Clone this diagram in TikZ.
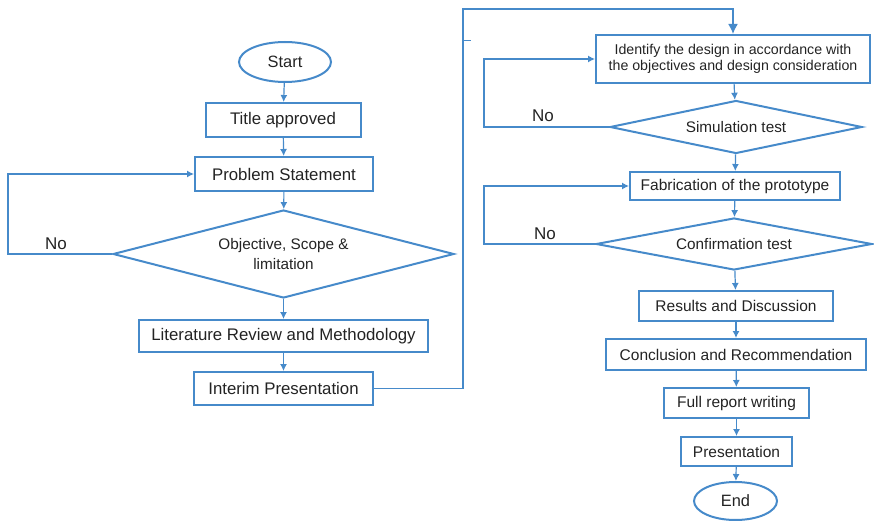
\documentclass[tikz,border=0pt]{standalone}
\usepackage{fontspec}
\setmainfont{Liberation Sans}
\usepackage{tikz}
\usetikzlibrary{arrows.meta,shapes.geometric}
\definecolor{flowblue}{RGB}{70,138,202}
\definecolor{flowtext}{RGB}{35,35,35}
\tikzset{
  stepbox/.style={draw=flowblue,line width=2pt,rectangle,inner sep=2pt,
    text=flowtext,font=\fontsize{16.8}{19}\selectfont,align=center},
  smallbox/.style={stepbox,font=\fontsize{15.5}{18}\selectfont},
  terminal/.style={draw=flowblue,line width=2pt,ellipse,inner sep=0pt,
    text=flowtext,font=\fontsize{16.4}{19}\selectfont},
  decision/.style={draw=flowblue,line width=2pt,diamond,inner sep=0pt,
    text=flowtext,font=\fontsize{15.3}{20}\selectfont,align=center},
  flow/.style={draw=flowblue,line width=1.2pt,-{Latex[length=7pt,width=7pt]}},
  nolabel/.style={text=flowtext,font=\fontsize{17}{19}\selectfont}
}
\begin{document}
\begin{tikzpicture}[x=1pt,y=-1pt]
  \useasboundingbox (0,0) rectangle (874,521);
  % left column
  \node[terminal,minimum width=92,minimum height=40] (start) at (285,62) {Start};
  \node[stepbox,minimum width=155,minimum height=34] (title) at (283,120) {Title approved};
  \node[stepbox,minimum width=178,minimum height=34] (problem) at (284,174) {Problem Statement};
  \node[decision,shape aspect=3.875,minimum width=341,minimum height=88] (objective) at (283.5,254) {Objective, Scope \&\\limitation};
  \node[stepbox,minimum width=289,minimum height=32] (litrev) at (283.5,336) {Literature Review and Methodology};
  \node[stepbox,minimum width=179,minimum height=33] (interim) at (283.5,388.5) {Interim Presentation};
  % right column
  \node[stepbox,minimum width=274,minimum height=48,font=\fontsize{14.2}{16.5}\selectfont] (identify) at (733,59) {Identify the design in accordance with\\the objectives and design consideration};
  \node[decision,shape aspect=4.75,minimum width=252,minimum height=53] (simtest) at (736,127) {Simulation test};
  \node[smallbox,minimum width=210,minimum height=28] (fabric) at (735,186) {Fabrication of the prototype};
  \node[decision,shape aspect=5.3,minimum width=276,minimum height=52] (conftest) at (734,244) {Confirmation test};
  \node[smallbox,minimum width=194,minimum height=30] (results) at (736,306) {Results and Discussion};
  \node[smallbox,minimum width=260,minimum height=31] (conclusion) at (736,354.5) {Conclusion and Recommendation};
  \node[smallbox,minimum width=145,minimum height=30] (fullreport) at (736.5,403) {Full report writing};
  \node[smallbox,minimum width=111,minimum height=29] (present) at (736.5,451.5) {Presentation};
  \node[terminal,minimum width=83,minimum height=38] (finish) at (735.5,501) {End};
  % main flow
  \draw[flow] (start) -- (title);
  \draw[flow] (title) -- (problem);
  \draw[flow] (problem) -- (objective);
  \draw[flow] (objective) -- (litrev);
  \draw[flow] (litrev) -- (interim);
  \coordinate (turnlow) at (463,388.5);
  \coordinate (turnhigh) at (463,9);
  \draw[draw=flowblue,line width=1.6pt,-{Latex[length=10pt,width=10pt]}]
    (interim.east) -- (turnlow) -- (turnhigh) -| (identify.north);
  \draw[draw=flowblue,line width=1pt] (463,41) -- (471,41);
  \draw[flow] (identify) -- (simtest);
  \draw[flow] (simtest) -- (fabric);
  \draw[flow] (fabric) -- (conftest);
  \draw[flow] (conftest) -- (results);
  \draw[flow] (results) -- (conclusion);
  \draw[flow] (conclusion) -- (fullreport);
  \draw[flow] (fullreport) -- (present);
  \draw[flow] (present) -- (finish);
  % no loops
  \coordinate (loopa) at (8,254);
  \coordinate (loopb) at (484,127);
  \coordinate (loopc) at (484,244);
  \draw[flow] (objective.west) -- (loopa) |- (problem.west);
  \node[nolabel] (noa) at (56,244) {No};
  \draw[flow] (simtest.west) -- (loopb) |- (identify.west);
  \node[nolabel] (nob) at (543,116) {No};
  \draw[flow] (conftest.west) -- (loopc) |- (fabric.west);
  \node[nolabel] (noc) at (545,234) {No};
\end{tikzpicture}
\end{document}
